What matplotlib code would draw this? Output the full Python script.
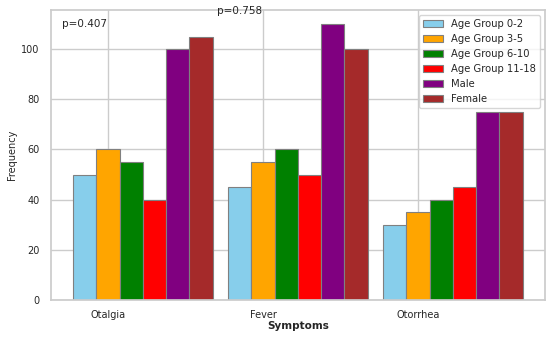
import matplotlib
matplotlib.use("Agg")
import matplotlib.pyplot as plt
import seaborn as sns
import numpy as np

# data
symptoms = ["Otalgia", "Fever", "Otorrhea"]
age_0_2 = [50, 45, 30]
age_3_5 = [60, 55, 35]
age_6_10 = [55, 60, 40]
age_11_18 = [40, 50, 45]
male = [100, 110, 75]
female = [105, 100, 75]
p_values = {"Otalgia": "p=0.407", "Fever": "p=0.758"}

sns.set_theme(style="whitegrid")
plt.rcParams['font.family'] = ['DejaVu Sans']

series = [
    ("Age Group 0-2", age_0_2, "skyblue"),
    ("Age Group 3-5", age_3_5, "orange"),
    ("Age Group 6-10", age_6_10, "green"),
    ("Age Group 11-18", age_11_18, "red"),
    ("Male", male, "purple"),
    ("Female", female, "brown"),
]

fig, ax = plt.subplots(figsize=(5.5, 3.38), dpi=100)
fig.subplots_adjust(left=0.092, right=0.991, top=0.970, bottom=0.112)

bar_width = 0.15
r = np.arange(len(symptoms))
for i, (label, vals, color) in enumerate(series):
    ax.bar(r + i * bar_width, vals, width=bar_width, color=color,
           edgecolor="grey", linewidth=0.8, label=label)

# p-values above each group's tallest bar
for i, s in enumerate(symptoms):
    if s in p_values:
        top = max(vals[i] for _, vals, _ in series)
        ax.text(r[i], top + 3, p_values[s], ha="center", va="bottom", fontsize=7.5)

ax.set_xticks(r + bar_width)
ax.set_xticklabels(symptoms)
ax.tick_params(axis="x", labelsize=7, pad=1)
ax.tick_params(axis="y", labelsize=7, pad=2)
ax.set_xlabel("Symptoms", fontweight="bold", fontsize=7.5, labelpad=1)
ax.set_ylabel("Frequency", fontsize=7, labelpad=3)
ax.legend(loc="upper right", fontsize=7.2)

plt.savefig("out.png", dpi=100)
